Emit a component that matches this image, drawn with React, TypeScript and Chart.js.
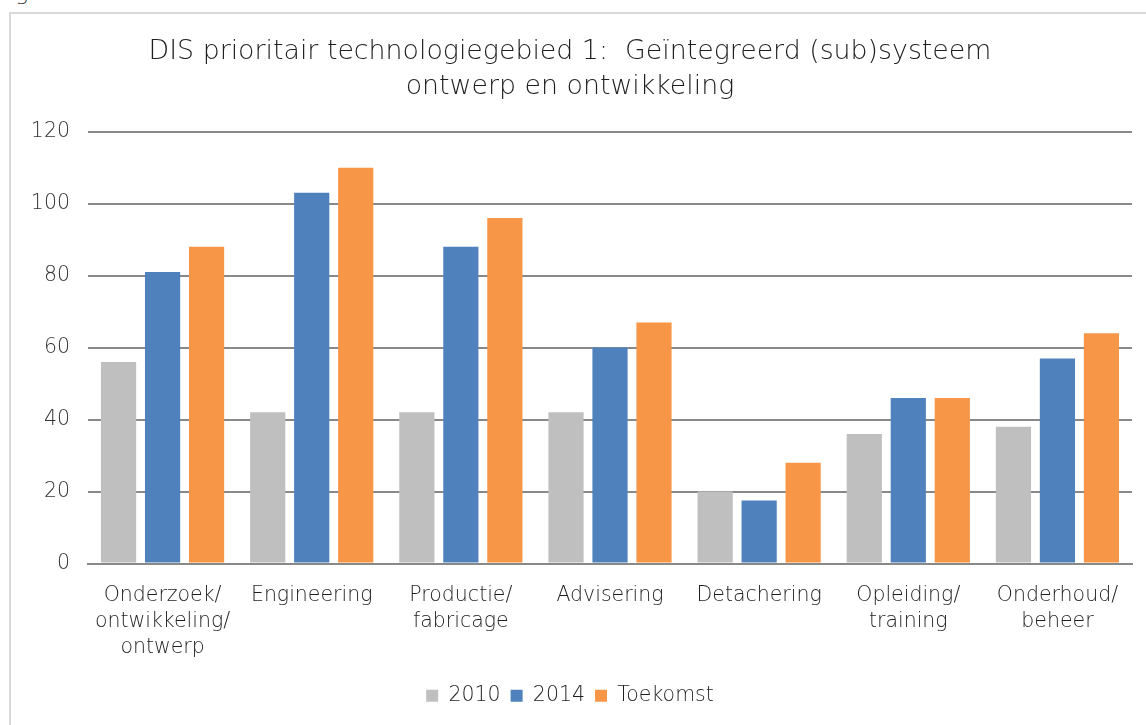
import React, { useEffect, useRef } from "react";
import { Chart, registerables } from "chart.js";

Chart.register(...registerables);

const categories: (string | string[])[] = [
  ["Onderzoek/", "ontwikkeling/", "ontwerp"],
  "Engineering",
  ["Productie/", "fabricage"],
  "Advisering",
  "Detachering",
  ["Opleiding/", "training"],
  ["Onderhoud/", "beheer"],
];

const series2010 = [56, 42, 42, 42, 20, 36, 38];
const series2014 = [81, 103, 88, 60, 17.5, 46, 57];
const seriesToekomst = [88, 110, 96, 67, 28, 46, 64];

const seriesNames = ["2010", "2014", "Toekomst"];
const titleLines = [
  "DIS prioritair technologiegebied 1:  Geïntegreerd (sub)systeem",
  "ontwerp en ontwikkeling",
];

const FONT = "'DejaVu Sans', 'Open Sans', sans-serif";
const TEXT = "#1e1e1e";

export default function App() {
  const ref = useRef<HTMLCanvasElement | null>(null);

  useEffect(() => {
    if (!ref.current) return;
    const chart = new Chart(ref.current, {
      type: "bar",
      data: {
        labels: categories,
        datasets: [
          { label: seriesNames[0], data: series2010, backgroundColor: "#BFBFBF" },
          { label: seriesNames[1], data: series2014, backgroundColor: "#4F81BD" },
          { label: seriesNames[2], data: seriesToekomst, backgroundColor: "#F79646" },
        ],
      },
      options: {
        responsive: false,
        animation: false,
        layout: { padding: { left: 8, right: 14, top: 0, bottom: 9 } },
        datasets: {
          bar: { categoryPercentage: 0.885, barPercentage: 0.8 },
        },
        plugins: {
          title: {
            display: true,
            text: titleLines,
            color: TEXT,
            font: { family: FONT, size: 26.8, weight: 200, lineHeight: 1.3 },
            padding: { top: 35, bottom: 27 },
          },
          legend: {
            position: "bottom",
            labels: {
              color: TEXT,
              font: { family: FONT, size: 20.5, weight: 200 },
              boxWidth: 12,
              boxHeight: 12,
              padding: 10,
            },
          },
          tooltip: { enabled: false },
        },
        scales: {
          x: {
            grid: { display: false },
            border: { display: true, color: "#898989", width: 2 },
            ticks: {
              color: TEXT,
              font: { family: FONT, size: 20.5, weight: 200, lineHeight: 1.27 },
              maxRotation: 0,
              autoSkip: false,
              padding: 11,
            },
            afterFit: (s: any) => {
              s.height = 112;
            },
          },
          y: {
            min: 0,
            max: 120,
            ticks: {
              stepSize: 20,
              color: "#333333",
              font: { family: FONT, size: 20.5, weight: 200 },
              padding: 18,
            },
            grid: { color: "#898989", lineWidth: 2, drawTicks: false },
            border: { display: false },
            afterFit: (s: any) => {
              s.width = 80;
            },
          },
        },
      },
    });
    return () => chart.destroy();
  }, []);

  return (
    <div
      style={{
        position: "fixed",
        left: 0,
        top: 0,
        width: 1146,
        height: 725,
        overflow: "hidden",
        background: "#fff",
      }}
    >
      <div
        style={{
          position: "absolute",
          left: -2,
          top: -20,
          fontFamily: FONT,
          fontWeight: 200,
          fontSize: 22,
          color: TEXT,
          whiteSpace: "nowrap",
        }}
      >
        Figuur 32
      </div>
      <div
        style={{
          position: "absolute",
          left: 9,
          top: 12,
          width: 1300,
          height: 900,
          border: "2px solid #d9d9d9",
          boxSizing: "border-box",
        }}
      />
      <canvas
        ref={ref}
        width={1146}
        height={725}
        style={{ position: "absolute", left: 0, top: 0, width: 1146, height: 725 }}
      />
    </div>
  );
}
